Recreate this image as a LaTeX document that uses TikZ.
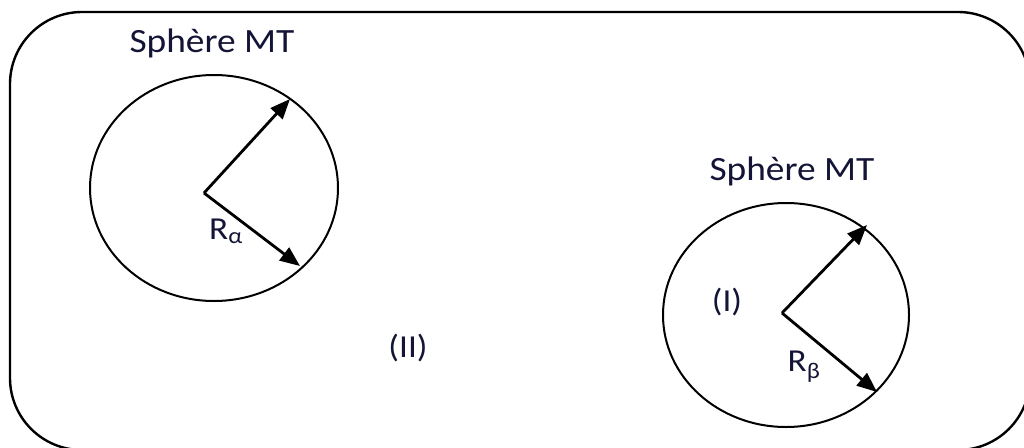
\documentclass[tikz,border=0pt]{standalone}
\usepackage{xcolor}
\usepackage{fontspec}
\setmainfont{Carlito}[FakeStretch=1.1]
\usepackage{tikz}
\usetikzlibrary{arrows.meta}

\definecolor{txtblue}{RGB}{20,20,55}

\begin{document}
\begin{tikzpicture}[x=1pt,y=-1pt,
    lbl/.style={draw=none,text=txtblue,font=\fontsize{32}{38}\selectfont},
    ttl/.style={draw=none,text=txtblue,font=\fontsize{34}{40}\selectfont},
    radius arrow/.style={line width=2.8pt,-{Triangle[length=20pt,width=16pt]}},
    sphere/.style={line width=2pt}]
             \useasboundingbox (0,0) rectangle (1024,447);

             % frame
             \draw[line width=2.4pt,rounded corners=72pt] (10,12) rectangle (1030,450);

             % sphere alpha
             \node[ttl] (titleA) at (212,43) {Sphère MT};
             \draw[sphere] (214,188) ellipse [x radius=124pt,y radius=113pt];
             \coordinate (cA) at (204,193);
             \coordinate (tA1) at (290,99);
             \coordinate (tA2) at (300,266);
             \draw[radius arrow] (cA) -- (tA1);
             \draw[radius arrow] (cA) -- (tA2);
             \node[lbl] (Ra) at (226,231) {R\textsubscript{α}};

             \node[lbl] (II) at (408,348) {(II)};

             % sphere beta
             \node[ttl] (titleB) at (792,171) {Sphère MT};
             \draw[sphere] (786,315) ellipse [x radius=123pt,y radius=112pt];
             \coordinate (cB) at (782,313);
             \coordinate (tB1) at (867,225);
             \coordinate (tB2) at (877,392);
             \draw[radius arrow] (cB) -- (tB1);
             \draw[radius arrow] (cB) -- (tB2);
             \node[lbl] (Rb) at (804,367) {R\textsubscript{β}};
             \node[lbl] (I) at (727,302) {(I)};
\end{tikzpicture}
\end{document}
